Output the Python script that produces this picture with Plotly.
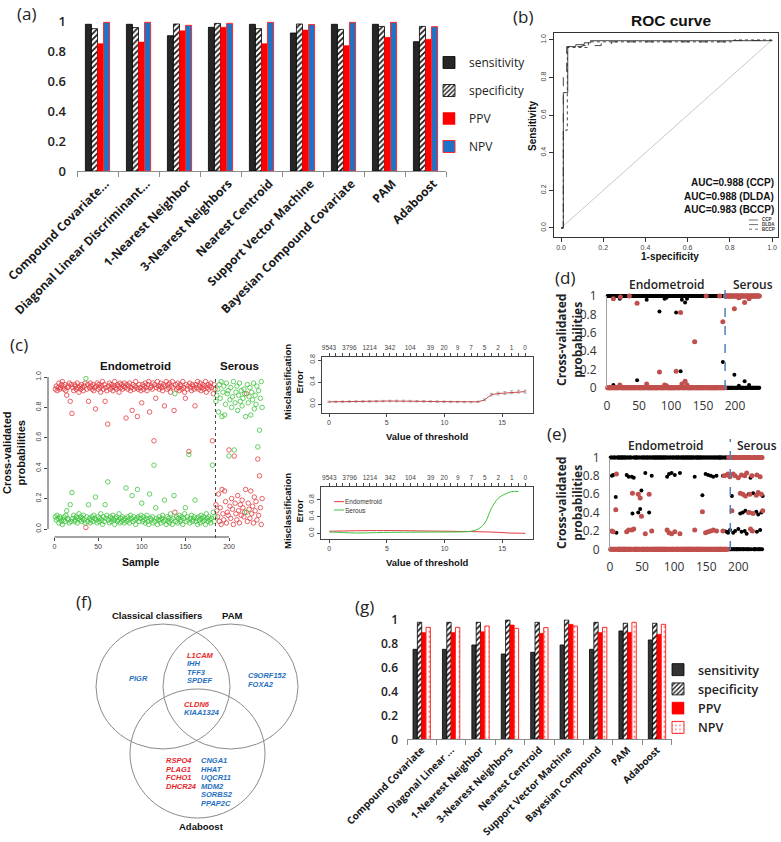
import plotly.graph_objects as go

W, H = 781, 842

# ===================== DATA =====================
# (a) classifier performance
a_methods = ["Compound Covariate...", "Diagonal Linear Discriminant...", "1-Nearest Neighbor",
             "3-Nearest Neighbors", "Nearest Centroid", "Support Vector Machine",
             "Bayesian Compound Covariate", "PAM", "Adaboost"]
a_sensitivity = [0.978, 0.978, 0.902, 0.958, 0.978, 0.920, 0.978, 0.978, 0.862]
a_specificity = [0.949, 0.956, 0.980, 0.984, 0.949, 0.980, 0.944, 0.964, 0.964]
a_ppv = [0.849, 0.860, 0.935, 0.958, 0.849, 0.940, 0.836, 0.891, 0.878]
a_npv = [0.991, 0.991, 0.971, 0.984, 0.991, 0.976, 0.991, 0.991, 0.962]

# (g) classifier performance, second data set
g_methods = ["Compound Covariate", "Diagonal Linear ...", "1-Nearest Neighbor",
             "3-Nearest Neighbors", "Nearest Centroid", "Support Vector Machine",
             "Bayesian Compound", "PAM", "Adaboost"]
g_sensitivity = [0.750, 0.750, 0.786, 0.711, 0.725, 0.786, 0.750, 0.903, 0.828]
g_specificity = [0.975, 0.975, 0.975, 0.994, 0.975, 0.994, 0.975, 0.967, 0.967]
g_ppv = [0.889, 0.889, 0.897, 0.953, 0.883, 0.958, 0.889, 0.892, 0.875]
g_npv = [0.933, 0.933, 0.944, 0.925, 0.931, 0.944, 0.933, 0.975, 0.958]

# (b) ROC curves
roc_ccp_fpr = [0, 0.011, 0.011, 0.032, 0.032, 0.07, 0.07, 0.11, 0.11, 0.14, 0.14, 1.0, 1.0]
roc_ccp_tpr = [0, 0, 0.72, 0.72, 0.965, 0.965, 0.975, 0.975, 0.985, 0.985, 0.996, 0.996, 1.0]
roc_dlda_fpr = [0, 0.011, 0.011, 0.027, 0.027, 0.10, 0.10, 0.19, 0.19, 0.24, 0.24, 0.82, 0.82, 1.0]
roc_dlda_tpr = [0, 0, 0.82, 0.82, 0.965, 0.965, 0.97, 0.97, 0.98, 0.98, 0.99, 0.99, 0.997, 0.997]
roc_bccp_fpr = [0, 0.011, 0.011, 0.030, 0.030, 0.13, 0.13, 0.82, 0.82, 1.0]
roc_bccp_tpr = [0, 0, 0.52, 0.52, 0.96, 0.96, 0.99, 0.99, 1.0, 1.0]
roc_chance = [0, 1]
roc_auc_text = ["AUC=0.988 (CCP)", "AUC=0.988 (DLDA)", "AUC=0.983 (BCCP)"]
roc_names = ["CCP", "DLDA", "BCCP"]

# (c) PAM cross-validated probabilities (percent); samples 1-184 endometroid, 185-238 serous
c_red_endo = [
    92, 94, 91, 93, 96, 92, 93, 95, 97, 94, 92, 95, 91, 88, 93, 94, 96, 84, 95, 76,
    93, 91, 95, 94, 92, 96, 93, 90, 94, 92, 95, 93, 91, 94, 96, 1, 92, 95, 84, 93,
    96, 94, 92, 95, 91, 93, 79, 94, 96, 92, 95, 93, 90, 94, 97, 92, 95, 84, 93, 91,
    69, 94, 96, 92, 95, 93, 91, 94, 97, 93, 92, 95, 94, 90, 96, 93, 95, 92, 94, 96,
    93, 73, 95, 92, 94, 96, 91, 93, 78, 95, 92, 94, 97, 93, 74, 92, 95, 93, 91, 83,
    95, 92, 94, 96, 93, 91, 95, 97, 77, 93, 94, 92, 96, 58, 95, 86, 93, 97, 94, 92,
    94, 96, 93, 91, 95, 81, 94, 97, 92, 95, 93, 96, 90, 94, 97, 93, 78, 11, 95, 92,
    96, 93, 91, 95, 94, 92, 97, 93, 90, 86, 95, 92, 94, 51, 96, 93, 91, 95, 94, 92,
    81, 95, 93, 97, 92, 94, 96, 91, 93, 95, 92, 94, 97, 90, 93, 95, 92, 94, 96, 93,
    58, 89, 95, 92]
c_green_endo = [
    8, 6, 9, 7, 4, 8, 7, 5, 3, 6, 8, 5, 9, 12, 7, 6, 4, 16, 5, 24,
    7, 9, 5, 6, 8, 4, 7, 10, 6, 8, 5, 7, 9, 6, 4, 99, 8, 5, 16, 7,
    4, 6, 8, 5, 9, 7, 21, 6, 4, 8, 5, 7, 10, 6, 3, 8, 5, 16, 7, 9,
    31, 6, 4, 8, 5, 7, 9, 6, 3, 7, 8, 5, 6, 10, 4, 7, 5, 8, 6, 4,
    7, 27, 5, 8, 6, 4, 9, 7, 22, 5, 8, 6, 3, 7, 26, 8, 5, 7, 9, 17,
    5, 8, 6, 4, 7, 9, 5, 3, 23, 7, 6, 8, 4, 42, 5, 14, 7, 3, 6, 8,
    6, 4, 7, 9, 5, 19, 6, 3, 8, 5, 7, 4, 10, 6, 3, 7, 22, 89, 5, 8,
    4, 7, 9, 5, 6, 8, 3, 7, 10, 14, 5, 8, 6, 49, 4, 7, 9, 5, 6, 8,
    19, 5, 7, 3, 8, 6, 4, 9, 7, 5, 8, 6, 3, 10, 7, 5, 8, 6, 4, 7,
    42, 11, 5, 8]
c_red_serous = [
    16, 12, 8, 23, 5, 14, 3, 26, 10, 6, 25, 18, 4, 11, 9, 52, 15, 7, 20, 13,
    3, 48, 17, 10, 6, 22, 12, 4, 16, 9, 19, 14, 8, 11, 26, 89, 5, 17, 13, 7,
    25, 10, 15, 4, 21, 12, 18, 6, 46, 9, 35, 14, 3, 20]
c_green_serous = [
    84, 88, 92, 77, 95, 86, 97, 74, 90, 94, 75, 82, 96, 89, 91, 48, 85, 93, 80, 87,
    97, 52, 83, 90, 94, 78, 88, 96, 84, 91, 81, 86, 92, 89, 74, 11, 95, 83, 87, 93,
    75, 90, 85, 96, 79, 88, 82, 94, 54, 91, 65, 86, 97, 80]

# (c) PAM threshold curves
thr_values = [0.00, 0.59, 1.17, 1.76, 2.34, 2.93, 3.52, 4.10, 4.69, 5.28, 5.86, 6.45, 7.03, 7.62, 8.21,
              8.79, 9.38, 9.97, 10.55, 11.14, 11.72, 12.31, 12.90, 13.48, 14.07, 14.66, 15.24, 15.83, 16.41, 17.00]
thr_gene_counts = ["9543", "", "", "3796", "", "", "1214", "", "", "342", "", "", "104", "", "",
                   "39", "", "20", "", "9", "", "7", "", "5", "", "2", "", "1", "", "0"]
cv_error_overall = [0.040, 0.040, 0.042, 0.044, 0.045, 0.046, 0.048, 0.050, 0.052, 0.054, 0.055, 0.055, 0.052, 0.050, 0.048,
                    0.046, 0.044, 0.042, 0.040, 0.038, 0.036, 0.035, 0.040, 0.075, 0.170, 0.190, 0.200, 0.215, 0.225, 0.225]
cv_error_se = [0.012, 0.012, 0.013, 0.013, 0.013, 0.014, 0.014, 0.014, 0.014, 0.015, 0.015, 0.015, 0.014, 0.014, 0.014,
               0.013, 0.013, 0.013, 0.012, 0.012, 0.012, 0.012, 0.013, 0.017, 0.024, 0.025, 0.026, 0.027, 0.027, 0.027]
cv_error_endo = [0.050, 0.052, 0.055, 0.058, 0.060, 0.062, 0.064, 0.065, 0.065, 0.065, 0.064, 0.062, 0.060, 0.058, 0.056,
                 0.054, 0.052, 0.050, 0.048, 0.045, 0.042, 0.040, 0.037, 0.034, 0.030, 0.022, 0.012, 0.005, 0.002, 0.000]
cv_error_serous = [0.030, 0.025, 0.018, 0.010, 0.006, 0.008, 0.012, 0.016, 0.020, 0.022, 0.024, 0.025, 0.026, 0.027, 0.028,
                   0.029, 0.030, 0.030, 0.030, 0.031, 0.035, 0.050, 0.100, 0.240, 0.600, 0.840, 0.940, 1.000, 1.000]

# (d) cross-validated probabilities, classifier 1 (black = endometroid, red = serous)
d_black = [
    1, 1, 1, 1, 1, 1, 1, 1, 1, 0.03, 1, 1, 1, 1, 1, 1, 1, 1, 1, 0.97,
    0.01, 1, 1, 1, 1, 1, 1, 1, 1, 1, 1, 1, 1, 1, 0, 1, 1, 1, 1, 1,
    1, 1, 1, 1, 1, 1, 0.08, 1, 1, 1, 1, 1, 1, 1, 1, 1, 1, 1, 1, 1,
    1, 0.96, 1, 1, 1, 1, 1, 1, 1, 1, 1, 1, 1, 1, 1, 1, 1, 1, 1, 1,
    1, 0.83, 1, 1, 1, 1, 1, 1, 1, 0.97, 1, 1, 0.98, 1, 1, 1, 1, 1, 1, 1,
    1, 1, 1, 1, 1, 1, 1, 0.82, 1, 1, 1, 1, 1, 1, 0.18, 1, 0.96, 1, 1, 1,
    1, 0.93, 1, 1, 0.97, 1, 1, 1, 1, 1, 1, 1, 1, 1, 1, 1, 0.5, 1, 1, 1,
    1, 1, 1, 1, 1, 1, 1, 1, 1, 1, 1, 1, 1, 1, 0, 1, 1, 1, 1, 1,
    1, 1, 1, 1, 1, 1, 1, 1, 1, 1, 1, 1, 1, 1, 1, 0, 1, 1, 1, 1,
    0.28, 1, 1, 1,
    0, 0, 0, 0, 0, 0, 0, 0, 0, 0, 0, 0, 0, 0, 0.14, 0, 0, 0, 0, 0,
    0, 0.02, 0, 0, 0, 0, 0, 0, 0, 0, 0.07, 0, 0, 0, 0, 0, 0, 0.03, 0, 0,
    0, 0, 0, 0, 0, 0, 0, 0, 0, 0, 0, 0, 0, 0]
d_red = [
    0, 0, 0, 0, 0, 0, 0, 0, 0, 0.97, 0, 0, 0, 0, 0, 0, 0, 0, 0, 0.03,
    0.99, 0, 0, 0, 0, 0, 0, 0, 0, 0, 0, 0, 0, 0, 1, 0, 0, 0, 0, 0,
    0, 0, 0, 0, 0, 0, 0.92, 0, 0, 0, 0, 0, 0, 0, 0, 0, 0, 0, 0, 0,
    0, 0.04, 0, 0, 0, 0, 0, 0, 0, 0, 0, 0, 0, 0, 0, 0, 0, 0, 0, 0,
    0, 0.17, 0, 0, 0, 0, 0, 0, 0, 0.03, 0, 0, 0.02, 0, 0, 0, 0, 0, 0, 0,
    0, 0, 0, 0, 0, 0, 0, 0.18, 0, 0, 0, 0, 0, 0, 0.82, 0, 0.04, 0, 0, 0,
    0, 0.07, 0, 0, 0.03, 0, 0, 0, 0, 0, 0, 0, 0, 0, 0, 0, 0.5, 0, 0, 0,
    0, 0, 0, 0, 0, 0, 0, 0, 0, 0, 0, 0, 0, 0, 1, 0, 0, 0, 0, 0,
    0, 0, 0, 0, 0, 0, 0, 0, 0, 0, 0, 0, 0, 0, 0, 1, 0, 0, 0, 0,
    0.72, 0, 0, 0,
    1, 1, 1, 1, 1, 1, 1, 1, 1, 1, 1, 1, 1, 1, 0.86, 1, 1, 1, 1, 1,
    1, 0.98, 1, 1, 1, 1, 1, 1, 1, 1, 0.93, 1, 1, 1, 1, 1, 1, 0.97, 1, 1,
    1, 1, 1, 1, 1, 1, 1, 1, 1, 1, 1, 1, 1, 1]

# (e) cross-validated probabilities, classifier 2 (k-NN style, steps of 0.2)
e_black = [
    1, 1, 0.8, 1, 0.81, 1, 1, 1, 0.57, 0.18, 1, 1, 1, 1, 1, 1, 1, 1, 1, 1,
    1, 1, 1, 1, 1, 0.81, 1, 1, 0.79, 1, 1, 1, 1, 0.79, 0.39, 1, 0.78, 1, 1, 1,
    1, 1, 1, 0.4, 1, 1, 0.44, 1, 0.64, 1, 1, 1, 1, 1, 0.83, 1, 1, 1, 1, 1,
    0.4, 1, 1, 1, 0.8, 1, 1, 1, 1, 1, 1, 1, 1, 1, 1, 1, 1, 1, 1, 1,
    1, 1, 1, 1, 1, 1, 1, 1, 0.79, 1, 1, 0.82, 1, 1, 1, 0.83, 1, 1, 1, 1,
    0.81, 1, 1, 1, 1, 1, 1, 1, 0.83, 1, 1, 1, 1, 1, 1, 1, 1, 1, 1, 1,
    1, 1, 1, 1, 1, 1, 1, 1, 1, 1, 1, 0.79, 1, 1, 1, 1, 1, 1, 1, 1,
    1, 1, 1, 0.59, 1, 1, 1, 1, 0.82, 1, 1, 1, 0.81, 1, 1, 1, 0.8, 1, 1, 1,
    0.79, 1, 1, 1, 1, 0.8, 1, 1, 1, 1, 1, 1, 1, 1, 1, 0.8, 1, 0.2, 1, 1,
    1, 0.19, 1, 0.18,
    0, 0, 0.21, 0, 0, 0.58, 0, 0.18, 0, 0, 0.2, 0, 0, 0, 0, 0.22, 0, 0, 0.39, 0,
    0.19, 0, 0.4, 0, 0, 0.2, 0.42, 0, 0.17, 0, 0, 0.6, 0, 0.4, 0.78, 0, 0.2, 0.8, 0.61, 0,
    0, 0, 0, 0.41, 0.19, 0, 0.38, 0, 0, 0.21, 0, 0.4, 0, 0.58]
e_red = [
    0, 0, 0.2, 0, 0.19, 0, 0, 0, 0.43, 0.82, 0, 0, 0, 0, 0, 0, 0, 0, 0, 0,
    0, 0, 0, 0, 0, 0.19, 0, 0, 0.21, 0, 0, 0, 0, 0.21, 0.61, 0, 0.22, 0, 0, 0,
    0, 0, 0, 0.6, 0, 0, 0.56, 0, 0.36, 0, 0, 0, 0, 0, 0.17, 0, 0, 0, 0, 0,
    0.6, 0, 0, 0, 0.2, 0, 0, 0, 0, 0, 0, 0, 0, 0, 0, 0, 0, 0, 0, 0,
    0, 0, 0, 0, 0, 0, 0, 0, 0.21, 0, 0, 0.18, 0, 0, 0, 0.17, 0, 0, 0, 0,
    0.19, 0, 0, 0, 0, 0, 0, 0, 0.17, 0, 0, 0, 0, 0, 0, 0, 0, 0, 0, 0,
    0, 0, 0, 0, 0, 0, 0, 0, 0, 0, 0, 0.21, 0, 0, 0, 0, 0, 0, 0, 0,
    0, 0, 0, 0.41, 0, 0, 0, 0, 0.18, 0, 0, 0, 0.19, 0, 0, 0, 0.2, 0, 0, 0,
    0.21, 0, 0, 0, 0, 0.2, 0, 0, 0, 0, 0, 0, 0, 0, 0, 0.2, 0, 0.8, 0, 0,
    0, 0.81, 0, 0.82,
    1, 1, 0.79, 1, 1, 0.42, 1, 0.82, 1, 1, 0.8, 1, 1, 1, 1, 0.78, 1, 1, 0.61, 1,
    0.81, 1, 0.6, 1, 1, 0.8, 0.58, 1, 0.83, 1, 1, 0.4, 1, 0.6, 0.22, 1, 0.8, 0.2, 0.39, 1,
    1, 1, 1, 0.59, 0.81, 1, 0.62, 1, 1, 0.79, 1, 0.6, 1, 0.42]
class_boundary = 184.5

# (f) Venn diagram gene lists
venn_titles = ["Classical classifiers", "PAM", "Adaboost"]
genes_classical_only = ["PIGR"]
genes_classical_pam = ["L1CAM", "IHH", "TFF3", "SPDEF"]
genes_pam_only = ["C9ORF152", "FOXA2"]
genes_all_three = ["CLDN6", "KIAA1324"]
genes_adaboost_red = ["RSPO4", "PLAG1", "FCHO1", "DHCR24"]
genes_adaboost_blue = ["CNGA1", "HHAT", "UQCR11", "MDM2", "SORBS2", "PPAP2C"]
red_genes = ["L1CAM", "CLDN6", "RSPO4", "PLAG1", "FCHO1", "DHCR24"]

# ===================== HELPERS =====================
def dx(a, b):
    return [a / W, b / W]

def dy(top, bot):
    return [1 - bot / H, 1 - top / H]

annotations = []
shapes = []

def text(t, x, y, size, family="Liberation Sans", color="#111", angle=0, xanchor="center", yanchor="middle", bold=False, italic=False, weight=None):
    s = t
    if italic:
        s = "<i>" + s + "</i>"
    if bold:
        s = "<b>" + s + "</b>"
    f = dict(family=family, size=size, color=color)
    if weight:
        f["weight"] = weight
    annotations.append(dict(text=s, x=x / W, y=1 - y / H, xref="paper", yref="paper", showarrow=False,
                            font=f, textangle=angle, xanchor=xanchor, yanchor=yanchor, borderpad=0))

fig = go.Figure()

SENS = "#262626"
RED = "#ff0000"
BLUE = "#1f73c6"
hatch = dict(shape="/", fgcolor="#111", bgcolor="white", size=4, solidity=0.4)

# ----- (a) bars -----
fig.add_trace(go.Bar(x=a_methods, y=a_sensitivity, name="sensitivity", xaxis="x", yaxis="y", legend="legend",
                     legendgroup="a1", marker=dict(color=SENS, line=dict(color="#000", width=0.8))))
fig.add_trace(go.Bar(x=a_methods, y=a_specificity, name="specificity", xaxis="x", yaxis="y", legend="legend",
                     legendgroup="a2", marker=dict(color="white", line=dict(color="#000", width=0.8), pattern=hatch)))
fig.add_trace(go.Bar(x=a_methods, y=a_ppv, name="PPV", xaxis="x", yaxis="y", legend="legend",
                     legendgroup="a3", marker=dict(color=RED, line=dict(color=RED, width=0.5))))
fig.add_trace(go.Bar(x=a_methods, y=a_npv, name="NPV", xaxis="x", yaxis="y", legend="legend",
                     legendgroup="a4", marker=dict(color=BLUE, line=dict(color="#ff2a2a", width=1))))

# ----- (g) bars -----
fig.add_trace(go.Bar(x=g_methods, y=g_sensitivity, name="sensitivity", xaxis="x10", yaxis="y10", legend="legend2",
                     legendgroup="g1", marker=dict(color="#333333", line=dict(color="#000", width=0.8))))
fig.add_trace(go.Bar(x=g_methods, y=g_specificity, name="specificity", xaxis="x10", yaxis="y10", legend="legend2",
                     legendgroup="g2", marker=dict(color="white", line=dict(color="#000", width=0.8), pattern=hatch)))
fig.add_trace(go.Bar(x=g_methods, y=g_ppv, name="PPV", xaxis="x10", yaxis="y10", legend="legend2",
                     legendgroup="g3", marker=dict(color=RED, line=dict(color=RED, width=0.5))))
fig.add_trace(go.Bar(x=g_methods, y=g_npv, name="NPV", xaxis="x10", yaxis="y10", legend="legend2",
                     legendgroup="g4", marker=dict(color="white", line=dict(color="#ff2a2a", width=1),
                                                   pattern=dict(shape=".", fgcolor="#ff6060", bgcolor="white", size=5, solidity=0.15))))

# ----- (b) ROC -----
fig.add_trace(go.Scatter(x=roc_chance, y=roc_chance, mode="lines", line=dict(color="#c8c8c8", width=1),
                         xaxis="x2", yaxis="y2", showlegend=False))
for fx, ty, dash in [(roc_bccp_fpr, roc_bccp_tpr, "dot"), (roc_dlda_fpr, roc_dlda_tpr, "dash"), (roc_ccp_fpr, roc_ccp_tpr, "solid")]:
    fig.add_trace(go.Scatter(x=fx, y=ty, mode="lines", line=dict(color="#333", width=0.9, dash=dash),
                             xaxis="x2", yaxis="y2", showlegend=False))

# ----- (c) scatter -----
c_red = [v / 100 for v in c_red_endo + c_red_serous]
c_green = [v / 100 for v in c_green_endo + c_green_serous]
c_samples = list(range(1, len(c_red) + 1))
fig.add_trace(go.Scatter(x=c_samples, y=c_red, mode="markers", xaxis="x3", yaxis="y3", showlegend=False,
                         marker=dict(symbol="circle-open", size=4.5, color="#e23a3f", line=dict(width=0.8))))
fig.add_trace(go.Scatter(x=c_samples, y=c_green, mode="markers", xaxis="x3", yaxis="y3", showlegend=False,
                         marker=dict(symbol="circle-open", size=4.5, color="#3ec43e", line=dict(width=0.8))))

# ----- (c) threshold plots -----
fig.add_trace(go.Scatter(x=thr_values, y=cv_error_overall, mode="lines", xaxis="x4", yaxis="y4", showlegend=False,
                         line=dict(color="#c84848", width=1),
                         error_y=dict(type="data", array=cv_error_se, color="#909090", thickness=0.7, width=1.5)))
fig.add_trace(go.Scatter(x=thr_values, y=cv_error_endo, mode="lines", xaxis="x6", yaxis="y6", showlegend=False,
                         line=dict(color="#e23a3f", width=1, shape="spline")))
fig.add_trace(go.Scatter(x=thr_values[:len(cv_error_serous)], y=cv_error_serous, mode="lines", xaxis="x6", yaxis="y6",
                         showlegend=False, line=dict(color="#3ec43e", width=1, shape="spline")))
# empty traces so the top (gene-count) axes are drawn
fig.add_trace(go.Scatter(x=[], y=[], mode="lines", xaxis="x5", yaxis="y4", showlegend=False))
fig.add_trace(go.Scatter(x=[], y=[], mode="lines", xaxis="x7", yaxis="y6", showlegend=False))

# ----- (d), (e) -----
de_samples = list(range(1, len(d_black) + 1))
for yb, yr, xa, ya in [(d_black, d_red, "x8", "y8"), (e_black, e_red, "x9", "y9")]:
    fig.add_trace(go.Scatter(x=de_samples, y=yb, mode="markers", xaxis=xa, yaxis=ya, showlegend=False, cliponaxis=False,
                             marker=dict(color="#000", size=4)))
    fig.add_trace(go.Scatter(x=de_samples, y=yr, mode="markers", xaxis=xa, yaxis=ya, showlegend=False, cliponaxis=False,
                             marker=dict(color="#c0504d", size=5)))

# ===================== AXES =====================
noline = dict(showgrid=False, zeroline=False, automargin=False)
R_TICK = dict(family="Liberation Sans", size=7, color="#444")
XL_TICK = dict(family="Open Sans", size=12, color="#333")

cat_x = dict(showline=True, linecolor="#8c8c8c", linewidth=1, ticks="outside", tickson="boundaries", ticklen=5,
             tickcolor="#8c8c8c", tickangle=-45, **noline)
layout_axes = dict(
    xaxis=dict(domain=dx(77, 446), anchor="y", ticklabelshift=8,
               tickfont=dict(family="Open Sans", size=12, color="#1a1a1a", weight="bold"), **cat_x),
    yaxis=dict(domain=dy(21, 171), anchor="x", range=[0, 1], dtick=0.2, ticks="", showline=False, ticklabelstandoff=10,
               tickfont=dict(family="Open Sans", size=13, color="#222", weight=600), **noline),
    xaxis10=dict(domain=dx(407, 671.7), anchor="y10",
                 tickfont=dict(family="Open Sans", size=10, color="#1a1a1a", weight="bold"), **cat_x),
    yaxis10=dict(domain=dy(619.3, 739.3), anchor="x10", range=[0, 1], dtick=0.2, ticks="", showline=False, ticklabelstandoff=8,
                 tickfont=dict(family="Open Sans", size=12, color="#222", weight=600), **noline),
    # (b)
    xaxis2=dict(domain=dx(554, 778), anchor="y2", range=[-0.0332, 1.0284], tickvals=[0, 0.2, 0.4, 0.6, 0.8, 1.0],
                tickformat=".1f", ticks="outside", ticklen=4, tickcolor="#333", showline=True, mirror=True,
                linecolor="#333", linewidth=1, tickfont=R_TICK, **noline),
    yaxis2=dict(domain=dy(33, 237), anchor="x2", range=[-0.0479, 1.037], tickvals=[0, 0.2, 0.4, 0.6, 0.8, 1.0],
                tickformat=".1f", tickangle=-90, ticks="outside", ticklen=4, tickcolor="#333", showline=True, mirror=True,
                linecolor="#333", linewidth=1, tickfont=R_TICK, **noline),
    # (c) scatter
    xaxis3=dict(domain=dx(48, 268), anchor="y3", range=[-7.45, 244.7], tickvals=[0, 50, 100, 150, 200], ticks="outside",
                ticklen=3, tickcolor="#444", showline=False, tickfont=R_TICK, **noline),
    yaxis3=dict(domain=dy(369, 537), anchor="x3", range=[-0.0526, 1.0526], tickvals=[0, 0.2, 0.4, 0.6, 0.8, 1.0],
                tickformat=".1f", tickangle=-90, ticks="outside", ticklen=3, tickcolor="#444", showline=False,
                tickfont=R_TICK, **noline),
    # (c) top threshold plot
    xaxis4=dict(domain=dx(322, 533), anchor="y4", range=[-0.607, 17.68], tickvals=[0, 5, 10, 15], ticks="outside",
                ticklen=3, tickcolor="#444", showline=True, mirror=True, linecolor="#444", linewidth=1, tickfont=R_TICK, **noline),
    yaxis4=dict(domain=dy(357, 413), anchor="x4", range=[-0.1636, 0.8545], tickvals=[0, 0.4, 0.8], tickformat=".1f",
                tickangle=-90, ticks="outside", ticklen=3, tickcolor="#444", showline=True, mirror=True, linecolor="#444",
                linewidth=1, tickfont=R_TICK, **noline),
    xaxis5=dict(domain=dx(322, 533), overlaying="x4", anchor="y4", side="top", type="linear", range=[-0.607, 17.68],
                tickvals=thr_values, ticktext=thr_gene_counts, ticks="outside", ticklen=3, tickcolor="#444",
                showline=False, tickfont=dict(family="Liberation Sans", size=6.5, color="#444"), **noline),
    # (c) bottom threshold plot
    xaxis6=dict(domain=dx(320.7, 533), anchor="y6", range=[-0.746, 17.67], tickvals=[0, 5, 10, 15], ticks="outside",
                ticklen=3, tickcolor="#444", showline=True, mirror=True, linecolor="#444", linewidth=1, tickfont=R_TICK, **noline),
    yaxis6=dict(domain=dy(486.7, 539), anchor="x6", range=[-0.137, 1.117], tickvals=[0, 0.4, 0.8], tickformat=".1f",
                tickangle=-90, ticks="outside", ticklen=3, tickcolor="#444", showline=True, mirror=True, linecolor="#444",
                linewidth=1, tickfont=R_TICK, **noline),
    xaxis7=dict(domain=dx(320.7, 533), overlaying="x6", anchor="y6", side="top", type="linear", range=[-0.746, 17.67],
                tickvals=thr_values, ticktext=thr_gene_counts, ticks="outside", ticklen=3, tickcolor="#444",
                showline=False, tickfont=dict(family="Liberation Sans", size=6.5, color="#444"), **noline),
    # (d)
    xaxis8=dict(domain=dx(607, 764), anchor="y8", range=[0, 245.3], tickvals=[0, 50, 100, 150, 200], ticks="",
                showline=False, ticklabelstandoff=9, tickfont=XL_TICK, **noline),
    yaxis8=dict(domain=dy(296, 387.7), anchor="x8", range=[0, 1], dtick=0.2, ticks="", showline=True,
                linecolor="#a0a0a0", linewidth=1, ticklabelstandoff=7, tickfont=XL_TICK, **noline),
    # (e)
    xaxis9=dict(domain=dx(610, 767), anchor="y9", range=[0, 244.7], tickvals=[0, 50, 100, 150, 200], ticks="",
                showline=False, ticklabelstandoff=9, tickfont=XL_TICK, **noline),
    yaxis9=dict(domain=dy(457.5, 549.3), anchor="x9", range=[0, 1], dtick=0.2, ticks="", showline=True,
                linecolor="#a0a0a0", linewidth=1, ticklabelstandoff=7, tickfont=XL_TICK, **noline),
)

# ===================== SHAPES =====================
# (c) R-style axis lines and class boundary
shapes.append(dict(type="line", xref="x3", yref="paper", x0=0, x1=200, y0=1 - 537 / H, y1=1 - 537 / H,
                   line=dict(color="#444", width=1)))
shapes.append(dict(type="line", xref="paper", yref="y3", x0=48 / W, x1=48 / W, y0=0, y1=1,
                   line=dict(color="#444", width=1)))
shapes.append(dict(type="line", xref="x3", yref="paper", x0=class_boundary, x1=class_boundary,
                   y0=1 - 538 / H, y1=1 - 379 / H, line=dict(color="#444", width=1, dash="dot")))
# (d), (e) class boundary
shapes.append(dict(type="line", xref="x8", yref="paper", x0=class_boundary, x1=class_boundary,
                   y0=1 - 389 / H, y1=1 - 281 / H, line=dict(color="#4f81bd", width=1.5, dash="dash")))
shapes.append(dict(type="line", xref="x9", yref="paper", x0=class_boundary + 3, x1=class_boundary + 3,
                   y0=1 - 550 / H, y1=1 - 439 / H, line=dict(color="#4f81bd", width=1.5, dash="dash")))
# (b) small legend line samples
for i, dash in enumerate(["solid", "dash", "dot"]):
    yy = 220 + 4.6 * i
    shapes.append(dict(type="line", xref="paper", yref="paper", x0=749 / W, x1=758 / W, y0=1 - yy / H, y1=1 - yy / H,
                       line=dict(color="#333", width=0.7, dash=dash)))
    text(roc_names[i], 761, yy, 4.5, color="#333", xanchor="left", bold=True)
# (c) bottom legend
for i, (nm, col) in enumerate([("Endometroid", "#e23a3f"), ("Serous", "#3ec43e")]):
    yy = 501.7 + 8.3 * i
    shapes.append(dict(type="line", xref="paper", yref="paper", x0=334 / W, x1=344 / W, y0=1 - yy / H, y1=1 - yy / H,
                       line=dict(color=col, width=1)))
    text(nm, 344, yy, 6.5, color="#333", xanchor="left")

# (f) Venn circles
VENN_LINE = dict(color="#8a8a8a", width=1)
for (x0, x1, ytop, ybot) in [(96, 230, 624, 749), (163, 298, 624, 749), (130, 265, 689, 818)]:
    shapes.append(dict(type="circle", xref="paper", yref="paper", x0=x0 / W, x1=x1 / W, y0=1 - ybot / H,
                       y1=1 - ytop / H, line=VENN_LINE))

# ===================== TEXT =====================
for lab, x, y in [("(a)", 26, 13), ("(b)", 523, 17), ("(c)", 19, 345), ("(d)", 565, 277), ("(e)", 557, 433),
                  ("(f)", 84, 601), ("(g)", 364, 606)]:
    text(lab, x, y, 17, family="Open Sans", color="#222")

# (b)
text("ROC curve", 671, 21, 15.5, bold=True)
text("Sensitivity", 532, 126, 10, bold=True, angle=-90)
text("1-specificity", 669.5, 256, 10, bold=True)
for i, t in enumerate(roc_auc_text):
    text(t, 775, 183 + 13.5 * i, 10, bold=True, xanchor="right")

# (c)
text("Endometroid", 135, 366, 11.5, bold=True)
text("Serous", 240, 366, 11.5, bold=True)
text("Cross-validated<br>probabilities", 14, 453, 11, bold=True, angle=-90)
text("Sample", 141, 562, 10.5, bold=True)
text("Misclassification<br>Error", 293.5, 382.5, 9.5, bold=True, angle=-90)
text("Value of threshold", 427, 436.5, 9.5, bold=True)
text("Misclassification<br>Error", 293, 511, 9.5, bold=True, angle=-90)
text("Value of threshold", 427, 562, 9.5, bold=True)

# (d), (e)
text("Endometroid", 667, 284, 12, family="Open Sans", color="#222", weight=600)
text("Serous", 753, 284, 12, family="Open Sans", color="#222", weight=600)
text("Cross-validated<br>probabilities", 569, 340, 12, family="Open Sans", color="#222", bold=True, angle=-90)
text("Endometroid", 666, 445, 12, family="Open Sans", color="#222", weight=600)
text("Serous", 757, 445, 12, family="Open Sans", color="#222", weight=600)
text("Cross-validated<br>probabilities", 569, 503, 12, family="Open Sans", color="#222", bold=True, angle=-90)

# (f)
text(venn_titles[0], 157, 615, 9.5, bold=True)
text(venn_titles[1], 232, 615, 9.5, bold=True)
text(venn_titles[2], 201, 826, 9.5, bold=True)

def gene_col(genes, x, y0, pitch, xanchor="left"):
    for k, gname in enumerate(genes):
        col = "#e8262b" if gname in red_genes else "#1f6fbf"
        text(gname, x, y0 + pitch * k, 7.5, color=col, bold=True, italic=True, xanchor=xanchor)

gene_col(genes_classical_only, 138, 678, 8.6, xanchor="center")
gene_col(genes_classical_pam, 186, 655, 8.5)
gene_col(genes_pam_only, 247, 675, 9)
gene_col(genes_all_three, 183, 704, 8.7)
gene_col(genes_adaboost_red, 165, 760.7, 8.5)
gene_col(genes_adaboost_blue, 200, 760.7, 8.5)

# ===================== LAYOUT =====================
fig.update_layout(
    template="none",
    width=W, height=H, margin=dict(l=0, r=0, t=0, b=0),
    paper_bgcolor="white", plot_bgcolor="white",
    barmode="group", bargap=0.41, bargroupgap=0,
    showlegend=True,
    legend=dict(x=429 / W, y=1 - 48 / H, xanchor="left", yanchor="top", bgcolor="rgba(0,0,0,0)",
                font=dict(family="Open Sans", size=12, color="#222"), traceorder="grouped", tracegroupgap=9),
    legend2=dict(x=658 / W, y=1 - 655 / H, xanchor="left", yanchor="top", bgcolor="rgba(0,0,0,0)",
                 font=dict(family="Open Sans", size=12.5, color="#222", weight=600), traceorder="grouped", tracegroupgap=0),
    annotations=annotations,
    shapes=shapes,
    hovermode=False,
    **layout_axes,
)

assert len(c_red_endo) == 184 and len(c_green_endo) == 184, (len(c_red_endo), len(c_green_endo))
assert len(c_red_serous) == 54 and len(c_green_serous) == 54
assert len(d_black) == 238 and len(d_red) == 238, (len(d_black), len(d_red))
assert len(e_black) == 238 and len(e_red) == 238, (len(e_black), len(e_red))

fig.write_html("out.html", config={"displayModeBar": False, "staticPlot": True},
               post_script="document.body.style.margin='0px';document.body.style.overflow='hidden';")
